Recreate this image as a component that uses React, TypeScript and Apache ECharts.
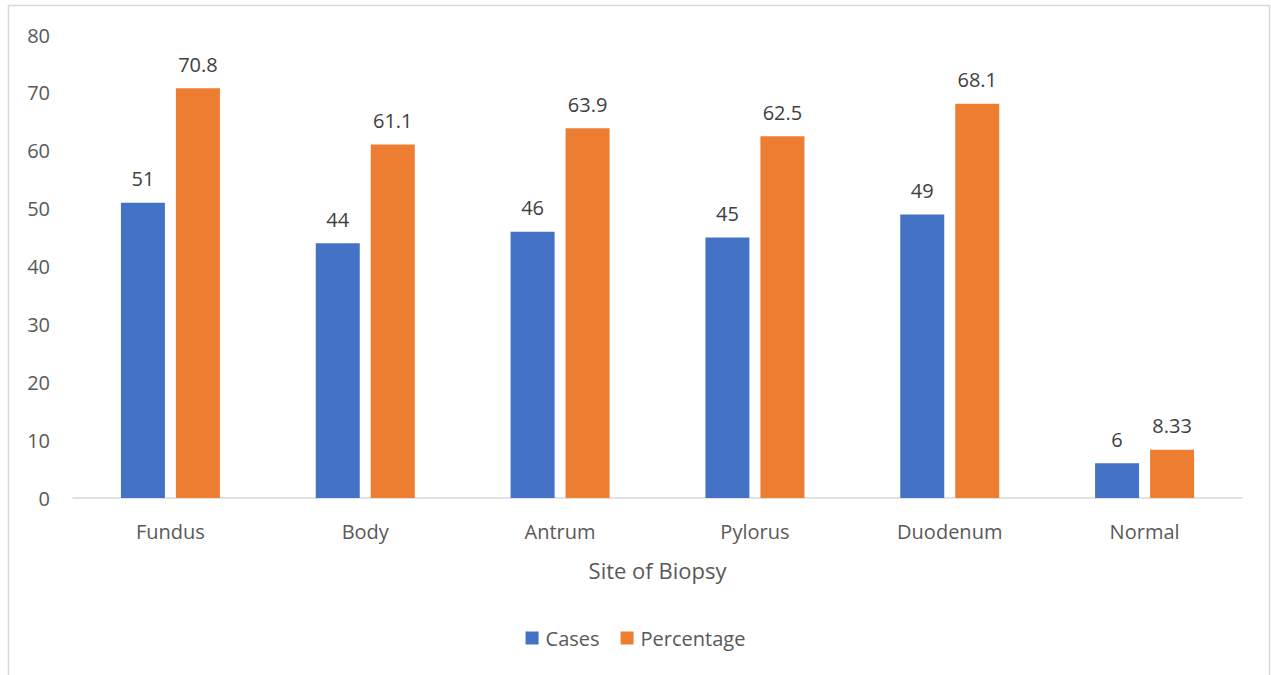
import React, { useEffect, useRef } from "react";
import * as echarts from "echarts";

const categories = ["Fundus", "Body", "Antrum", "Pylorus", "Duodenum", "Normal"];
const cases = [51, 44, 46, 45, 49, 6];
const percentage = [70.8, 61.1, 63.9, 62.5, 68.1, 8.33];
const seriesNames = ["Cases", "Percentage"];

const FONT = "'Open Sans', 'Noto Sans', sans-serif";

export default function App() {
  const ref = useRef<HTMLDivElement>(null);
  useEffect(() => {
    if (!ref.current) return;
    const chart = echarts.init(ref.current, undefined, { renderer: "svg" });
    const label = {
      show: true,
      position: "top",
      distance: 14,
      color: "#404040",
      fontSize: 20,
      fontFamily: FONT,
    };
    chart.setOption({
      animation: false,
      backgroundColor: "#fff",
      textStyle: { fontFamily: FONT },
      graphic: [
        {
          type: "rect",
          shape: { x: 8.5, y: 5.5, width: 1261, height: 700 },
          style: { fill: "none", stroke: "#d9d9d9", lineWidth: 1.5 },
          silent: true,
          z: -1,
        },
      ],
      grid: { left: 73, right: 29, top: 35, bottom: 177 },
      legend: {
        data: seriesNames,
        bottom: 22,
        left: "center",
        itemWidth: 13,
        itemHeight: 13,
        itemGap: 21,
        icon: "rect",
        textStyle: { color: "#595959", fontSize: 20, fontFamily: FONT, padding: [0, 0, 0, 2] },
      },
      xAxis: {
        type: "category",
        data: categories,
        name: "Site of Biopsy",
        nameLocation: "middle",
        nameGap: 61,
        nameTextStyle: { color: "#595959", fontSize: 22, fontFamily: FONT },
        axisLine: { lineStyle: { color: "#d9d9d9", width: 1.5 } },
        axisTick: { show: false },
        axisLabel: { color: "#595959", fontSize: 20, margin: 23, fontFamily: FONT },
      },
      yAxis: {
        type: "value",
        min: 0,
        max: 80,
        interval: 10,
        splitLine: { show: false },
        axisLine: { show: false },
        axisTick: { show: false },
        axisLabel: { color: "#595959", fontSize: 20, margin: 23, fontFamily: FONT },
      },
      series: [
        {
          name: seriesNames[0],
          type: "bar",
          data: cases,
          barWidth: 44,
          barGap: "25%",
          itemStyle: { color: "#4472c4" },
          label,
        },
        {
          name: seriesNames[1],
          type: "bar",
          data: percentage,
          barWidth: 44,
          barGap: "25%",
          itemStyle: { color: "#ed7d31" },
          label,
        },
      ],
    });
    return () => chart.dispose();
  }, []);
  return (
    <div
      ref={ref}
      style={{ position: "fixed", left: 0, top: 0, width: 1271, height: 675 }}
    />
  );
}
